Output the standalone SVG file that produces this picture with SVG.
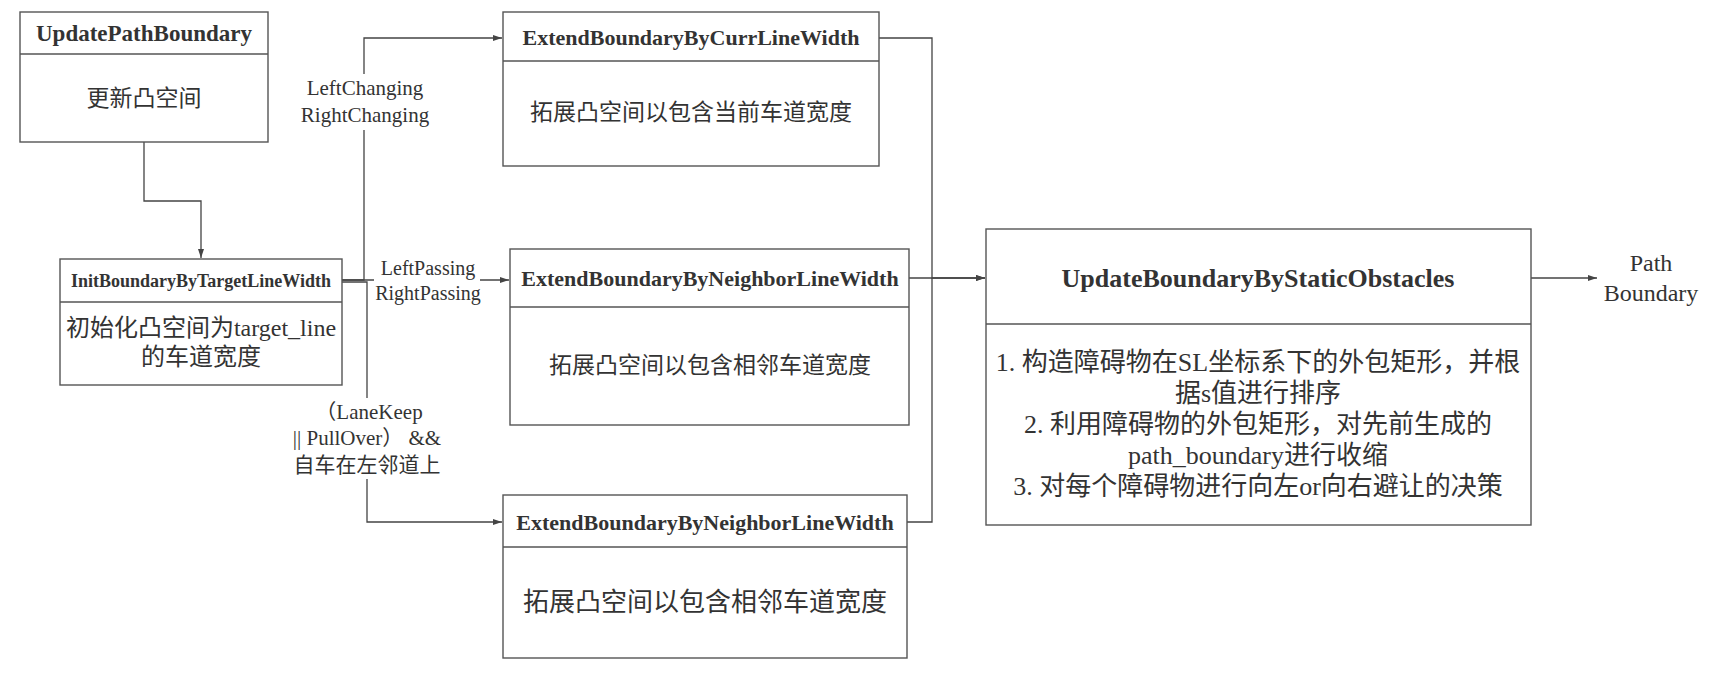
<svg xmlns="http://www.w3.org/2000/svg" width="1714" height="673" viewBox="0 0 1714 673">
<style>
.box{fill:#fff;stroke:#555;stroke-width:1.4}
.div{stroke:#555;stroke-width:1.4}
.t{font-family:"Liberation Serif","Noto Sans CJK SC",serif;fill:#333;text-anchor:middle;dominant-baseline:central}
.b{font-weight:bold}
.edge{fill:none;stroke:#444;stroke-width:1.3}
.lbg{fill:#fff}
</style>
<defs>
<marker id="arr" markerWidth="10" markerHeight="8" refX="9" refY="4" orient="auto" markerUnits="userSpaceOnUse">
<path d="M0,1 L9,4 L0,7 Z" fill="#444"/>
</marker>
</defs>
<rect width="1714" height="673" fill="#fff"/>
<g id="connectors">
<path class="edge" d="M144,142 V201 H201 V258" marker-end="url(#arr)"/>
<path class="edge" d="M342,280 H364 V38 H502" marker-end="url(#arr)"/>
<path class="edge" d="M342,280 H509" marker-end="url(#arr)"/>
<path class="edge" d="M342,282 H367 V522 H502" marker-end="url(#arr)"/>
<path class="edge" d="M879,38 H932 V278 H985" marker-end="url(#arr)"/>
<path class="edge" d="M909,278 H985" marker-end="url(#arr)"/>
<path class="edge" d="M907,522 H932 V278"/>
<path class="edge" d="M1531,278 H1597" marker-end="url(#arr)"/>
<rect class="lbg" x="298" y="74" width="136" height="56"/>
<text class="t" x="365" y="88" font-size="21">LeftChanging</text>
<text class="t" x="365" y="115" font-size="21">RightChanging</text>
<rect class="lbg" x="374" y="256" width="106" height="50"/>
<text class="t" x="428" y="268" font-size="20">LeftPassing</text>
<text class="t" x="428" y="293" font-size="20">RightPassing</text>
<rect class="lbg" x="290" y="398" width="154" height="81"/>
<text class="t" x="369" y="412" font-size="21">（LaneKeep</text>
<text class="t" x="367" y="438" font-size="21">|| PullOver） &amp;&amp;</text>
<text class="t" x="367" y="465" font-size="21">自车在左邻道上</text>
<text class="t" x="1651" y="263" font-size="24">Path</text>
<text class="t" x="1651" y="293" font-size="24">Boundary</text>
</g>
<g id="UpdatePathBoundary">
<rect class="box" x="20" y="12" width="248" height="130"/>
<line class="div" x1="20" y1="54" x2="268" y2="54"/>
<text class="t b" x="144" y="33" font-size="23">UpdatePathBoundary</text>
<text class="t" x="144" y="98" font-size="23">更新凸空间</text>
</g>
<g id="InitBoundaryByTargetLineWidth">
<rect class="box" x="60" y="259" width="282" height="126"/>
<line class="div" x1="60" y1="302" x2="342" y2="302"/>
<text class="t b" x="201" y="281" font-size="18">InitBoundaryByTargetLineWidth</text>
<text class="t" x="201" y="328" font-size="24">初始化凸空间为target_line</text>
<text class="t" x="201" y="357" font-size="24">的车道宽度</text>
</g>
<g id="ExtendBoundaryByCurrLineWidth">
<rect class="box" x="503" y="12" width="376" height="154"/>
<line class="div" x1="503" y1="61" x2="879" y2="61"/>
<text class="t b" x="691" y="37" font-size="22">ExtendBoundaryByCurrLineWidth</text>
<text class="t" x="691" y="112" font-size="23">拓展凸空间以包含当前车道宽度</text>
</g>
<g id="ExtendBoundaryByNeighborLineWidth1">
<rect class="box" x="510" y="249" width="399" height="176"/>
<line class="div" x1="510" y1="307" x2="909" y2="307"/>
<text class="t b" x="710" y="278" font-size="22">ExtendBoundaryByNeighborLineWidth</text>
<text class="t" x="710" y="365" font-size="23">拓展凸空间以包含相邻车道宽度</text>
</g>
<g id="ExtendBoundaryByNeighborLineWidth2">
<rect class="box" x="503" y="495" width="404" height="163"/>
<line class="div" x1="503" y1="547" x2="907" y2="547"/>
<text class="t b" x="705" y="522" font-size="22">ExtendBoundaryByNeighborLineWidth</text>
<text class="t" x="705" y="602" font-size="26">拓展凸空间以包含相邻车道宽度</text>
</g>
<g id="UpdateBoundaryByStaticObstacles">
<rect class="box" x="986" y="229" width="545" height="296"/>
<line class="div" x1="986" y1="324" x2="1531" y2="324"/>
<text class="t b" x="1258" y="278" font-size="26">UpdateBoundaryByStaticObstacles</text>
<text class="t" x="1258" y="362" font-size="26">1. 构造障碍物在SL坐标系下的外包矩形，并根</text>
<text class="t" x="1258" y="393" font-size="26">据s值进行排序</text>
<text class="t" x="1258" y="424" font-size="26">2. 利用障碍物的外包矩形，对先前生成的</text>
<text class="t" x="1258" y="455" font-size="26">path_boundary进行收缩</text>
<text class="t" x="1258" y="486" font-size="26">3. 对每个障碍物进行向左or向右避让的决策</text>
</g>
</svg>
